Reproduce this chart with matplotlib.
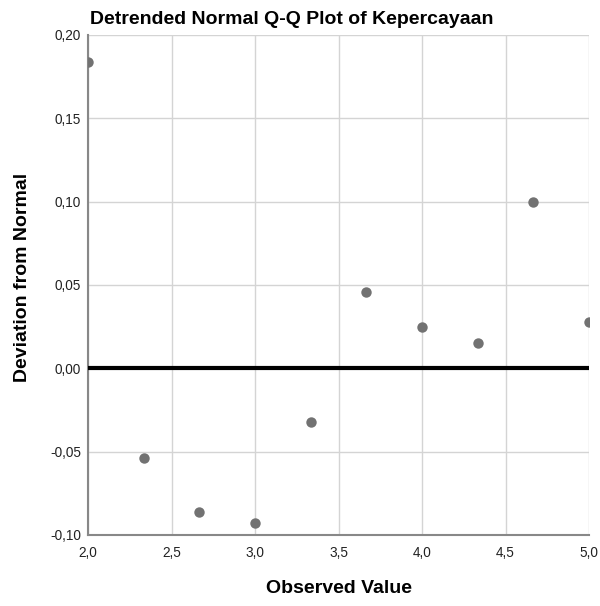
import matplotlib
matplotlib.use("Agg")
import matplotlib.pyplot as plt
from matplotlib.ticker import FuncFormatter

plt.rcParams['font.family'] = ['Liberation Sans', 'DejaVu Sans']

# observed values and detrended deviations
observed = [2.0, 2.333, 2.667, 3.0, 3.333, 3.667, 4.0, 4.333, 4.667, 5.0]
deviation = [0.184, -0.054, -0.086, -0.093, -0.032, 0.046, 0.025, 0.015, 0.100, 0.028]

x_ticks = [2.0, 2.5, 3.0, 3.5, 4.0, 4.5, 5.0]
y_ticks = [-0.10, -0.05, 0.0, 0.05, 0.10, 0.15, 0.20]

fig = plt.figure(figsize=(6.0, 6.06), dpi=100)
ax = fig.add_axes([88 / 600, 71 / 606, 501 / 600, 500 / 606])

ax.set_xlim(2.0, 5.0)
ax.set_ylim(-0.10, 0.20)
ax.set_xticks(x_ticks)
ax.set_yticks(y_ticks)
ax.xaxis.set_major_formatter(FuncFormatter(lambda v, p: f"{v:.1f}".replace(".", ",")))
ax.yaxis.set_major_formatter(FuncFormatter(lambda v, p: f"{v:.2f}".replace(".", ",")))

ax.grid(True, color="#d4d4d4", linewidth=1.0)
ax.set_axisbelow(True)
for side in ("top", "right"):
    ax.spines[side].set_visible(False)
for side in ("left", "bottom"):
    ax.spines[side].set_color("#888888")
    ax.spines[side].set_linewidth(1.5)
ax.tick_params(length=0, labelsize=9.8, colors="#222222")
ax.tick_params(axis="x", pad=8)
ax.tick_params(axis="y", pad=5)

ax.axhline(0, color="black", linewidth=3, zorder=3)
ax.plot(observed, deviation, "o", color="#727272", markersize=7.5,
        markeredgewidth=0, zorder=4)

ax.set_title("Detrended Normal Q-Q Plot of Kepercayaan", loc="left",
             fontsize=14, fontweight="bold", pad=8, x=0.004)
ax.set_xlabel("Observed Value", fontsize=14, fontweight="bold", labelpad=14)
ax.set_ylabel("Deviation from Normal", fontsize=14, fontweight="bold")
ax.yaxis.set_label_coords(-0.114, 0.515)

fig.savefig("out.png", dpi=100)
